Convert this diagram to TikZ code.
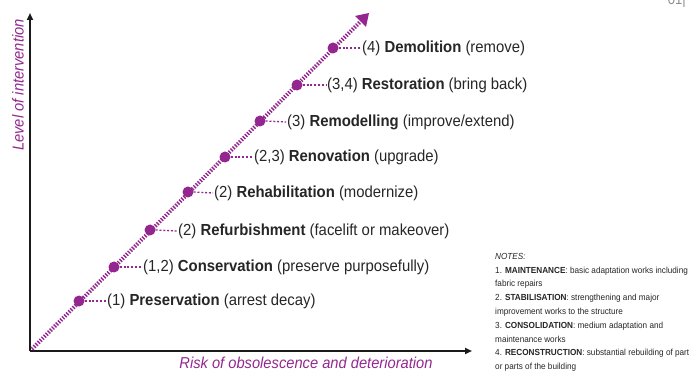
\documentclass[tikz,border=0pt]{standalone}
\usepackage{fontspec}
\setmainfont{Liberation Sans}[FakeStretch=0.93]
\usetikzlibrary{arrows.meta,calc}
\definecolor{plum}{HTML}{93278F}
\definecolor{axisgray}{HTML}{1A1A1A}
\tikzset{
  dotnode/.style={circle, fill=plum, inner sep=0pt, minimum size=11pt},
  lbl/.style={anchor=west, inner sep=1pt, font=\fontsize{16}{18}\selectfont, text=black!85},
  conn/.style={draw=plum, line width=1.3pt, dash pattern=on 2pt off 1.8pt},
  axis/.style={draw=axisgray, line width=2.4pt, -{Triangle[length=7pt,width=6pt]}},
  diag/.style={draw=plum, line width=4pt, dash pattern=on 1.4pt off 1.5pt},
  axlbl/.style={font=\fontsize{15.8}{18}\selectfont\itshape, text=plum, inner sep=0pt},
}
\begin{document}
\begin{tikzpicture}[x=1pt,y=-1pt]
\useasboundingbox (0,0) rectangle (693,371);
% page number fragment
\node[anchor=base east, text=black!45, font=\fontsize{14}{16}\selectfont, inner sep=0pt] (pg) at (686,4.5) {01|};
% axes
\coordinate (o) at (30,351);
\coordinate (ytop) at (30,13);
\coordinate (xend) at (472,351);
\draw[axis] (o) -- (ytop);
\draw[axis] (o) -- (xend);
% diagonal
\coordinate (ds) at (32,349);
\coordinate (de) at (369,13);
\draw[diag] (ds) -- ($(ds)!0.975!(de)$);
\fill[plum] (de) -- ++(-14,3) -- ++(11,11) -- cycle;
% dots and labels
\node[dotnode] (d1) at (79,301) {};
\node[lbl] (l1) at (106,301) {(1) \textbf{Preservation} (arrest decay)};
\node[dotnode] (d2) at (114,267) {};
\node[lbl] (l2) at (142,267) {(1,2) \textbf{Conservation} (preserve purposefully)};
\node[dotnode] (d3) at (150,230) {};
\node[lbl] (l3) at (177,231) {(2) \textbf{Refurbishment} (facelift or makeover)};
\node[dotnode] (d4) at (188,192) {};
\node[lbl] (l4) at (213,193) {(2) \textbf{Rehabilitation} (modernize)};
\node[dotnode] (d5) at (225,157) {};
\node[lbl] (l5) at (253,157) {(2,3) \textbf{Renovation} (upgrade)};
\node[dotnode] (d6) at (260,121) {};
\node[lbl] (l6) at (286,122) {(3) \textbf{Remodelling} (improve/extend)};
\node[dotnode] (d7) at (297,85) {};
\node[lbl] (l7) at (326,85) {(3,4) \textbf{Restoration} (bring back)};
\node[dotnode] (d8) at (333,48) {};
\node[lbl] (l8) at (361,48) {(4) \textbf{Demolition} (remove)};
\foreach \i in {1,...,8} {\draw[conn] (d\i.east) -- (l\i.west);}
% axis labels
\node[axlbl, rotate=90] (ylbl) at (18,85) {Level of intervention};
\node[axlbl] (xlbl) at (306,363) {Risk of obsolescence and deterioration};
% notes
\node[anchor=north west, align=left, inner sep=0pt, text=black!85, font=\fontsize{8.8}{13.8}\selectfont] (notes) at (495,253) {%
\textit{NOTES:}\\
1. \textbf{MAINTENANCE}: basic adaptation works including\\
fabric repairs\\
2. \textbf{STABILISATION}: strengthening and major\\
improvement works to the structure\\
3. \textbf{CONSOLIDATION}: medium adaptation and\\
maintenance works\\
4. \textbf{RECONSTRUCTION}: substantial rebuilding of part\\
or parts of the building};
\end{tikzpicture}
\end{document}
